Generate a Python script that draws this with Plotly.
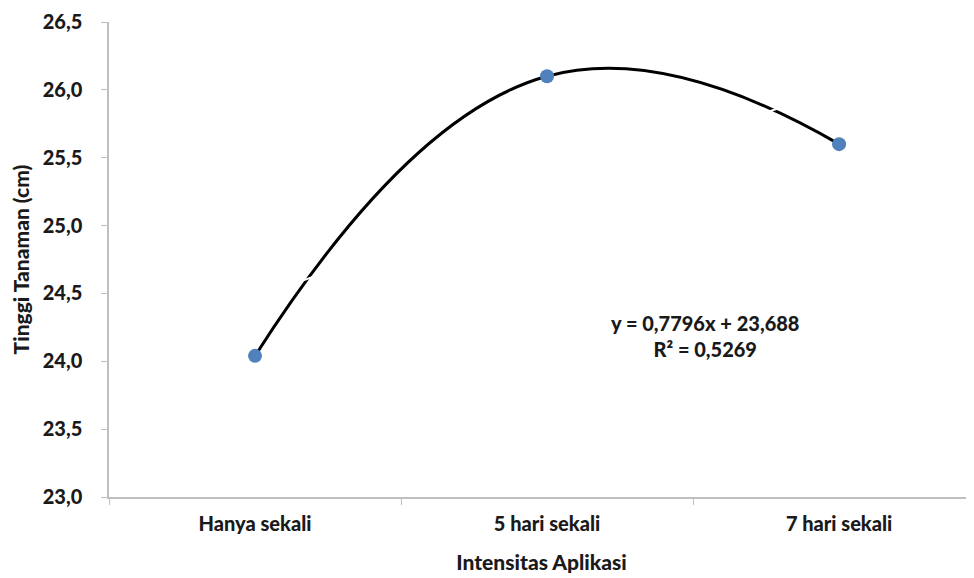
import plotly.graph_objects as go

categories = ["Hanya sekali", "5 hari sekali", "7 hari sekali"]
tinggi = [24.04, 26.10, 25.60]
y_ticks = [23.0, 23.5, 24.0, 24.5, 25.0, 25.5, 26.0, 26.5]
y_tick_labels = ["23,0", "23,5", "24,0", "24,5", "25,0", "25,5", "26,0", "26,5"]
trend_slope = 0.7796
trend_intercept = 23.688
equation_text = "y = 0,7796x + 23,688<br>R² = 0,5269"

FONT = "Lato, 'Open Sans', sans-serif"
AXIS_GRAY = "#bfbfbf"
TXT = "#1a1a1a"

fig = go.Figure()
fig.add_trace(go.Scatter(
    x=categories, y=tinggi, mode="lines",
    line=dict(color="black", width=3, shape="spline", smoothing=1.3),
    hoverinfo="skip", showlegend=False,
))
trend_x = [categories[0], categories[-1]]
trend_y = [trend_intercept + trend_slope * 1, trend_intercept + trend_slope * len(categories)]
fig.add_trace(go.Scatter(
    x=trend_x, y=trend_y, mode="lines",
    line=dict(color="white", width=2),
    hoverinfo="skip", showlegend=False,
))
fig.add_trace(go.Scatter(
    x=categories, y=tinggi, mode="markers",
    marker=dict(color="#4f81bd", size=14, line=dict(width=0)),
    showlegend=False,
))

fig.add_annotation(
    x=1.54, y=24.19, xref="x", yref="y",
    text=equation_text, showarrow=False,
    font=dict(family=FONT, size=20, color=TXT, weight=900),
    align="center",
)

fig.update_layout(
    width=966, height=570,
    margin=dict(l=101, r=0, t=14, b=81),
    paper_bgcolor="white", plot_bgcolor="white",
    font=dict(family=FONT, size=20, color=TXT, weight=900),
    xaxis=dict(
        type="category", categoryorder="array", categoryarray=categories,
        range=[-0.5, 2.462], automargin=False,
        showgrid=False, zeroline=False,
        showline=True, linecolor=AXIS_GRAY, linewidth=1.5,
        ticks="outside", tickson="boundaries", ticklen=6, tickcolor=AXIS_GRAY,
        ticklabelstandoff=8,
        tickfont=dict(family=FONT, size=20, color=TXT, weight=900),
        title=dict(text="Intensitas Aplikasi", standoff=22,
                   font=dict(family=FONT, size=21, color=TXT, weight=900)),
    ),
    yaxis=dict(
        range=[23.0, 26.5], automargin=False,
        tickvals=y_ticks, ticktext=y_tick_labels,
        showgrid=False, zeroline=False,
        showline=True, linecolor=AXIS_GRAY, linewidth=1.5,
        ticks="outside", ticklen=6, tickcolor=AXIS_GRAY,
        ticklabelstandoff=15,
        tickfont=dict(family=FONT, size=20, color=TXT, weight=900),
        title=dict(text="Tinggi Tanaman (cm)", standoff=8,
                   font=dict(family=FONT, size=21, color=TXT, weight=900)),
    ),
)

fig.write_html("out.html")
